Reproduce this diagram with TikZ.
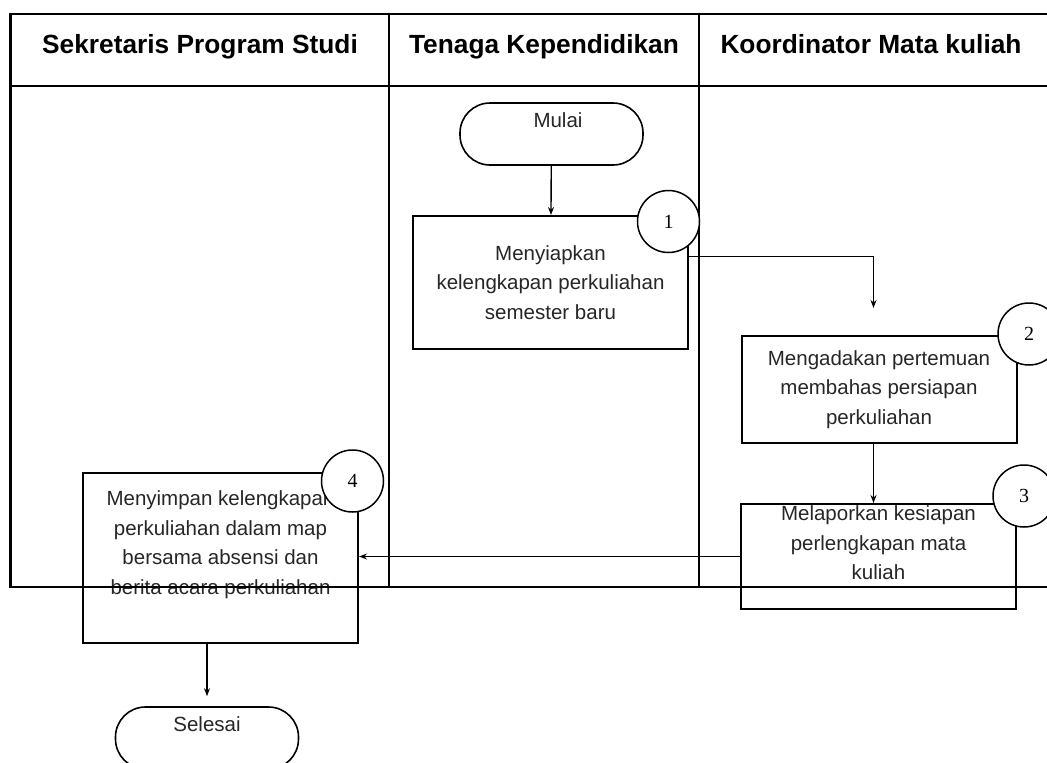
\documentclass[tikz,border=0pt]{standalone}
\usepackage{fontspec}
\setmainfont{Liberation Sans}
\newfontfamily\numfont{Liberation Serif}
\usetikzlibrary{arrows.meta}
\begin{document}
\begin{tikzpicture}[x=1pt,y=-1pt, >={Stealth[length=8pt,width=6pt]},
  every node/.style={font=\fontsize{20.5}{29.5}\selectfont,text=black!85},
  lane/.style={line width=2.6pt},
  link/.style={->,line width=1.4pt},
  box/.style={draw,line width=2pt,minimum width=275pt,inner sep=2pt,align=center},
  term/.style={draw,line width=1.6pt,rounded corners=30pt,minimum width=183pt,minimum height=62pt,text depth=27pt},
  num/.style={draw,circle,fill=white,line width=1.5pt,minimum size=62pt,inner sep=0pt,font=\numfont\fontsize{20}{20}\selectfont,text=black},
  head/.style={font=\fontsize{26.3}{30}\selectfont\bfseries,text=black,anchor=base}]
\useasboundingbox (0,0) rectangle (1047,763);
\node[term] (start) at (551.5,134) {\hspace*{13pt}Mulai};
\node[box,minimum height=133pt] (box1) at (550.5,282.5) {Menyiapkan\\kelengkapan perkuliahan\\semester baru};
\node[box,minimum height=107pt] (box2) at (879,389.5) {Mengadakan pertemuan\\membahas persiapan\\perkuliahan};
\node[box,minimum height=105pt,text depth=27pt] (box3) at (878.5,556.5) {Melaporkan kesiapan\\perlengkapan mata\\kuliah};
\node[box,minimum height=170pt,text depth=31pt] (box4) at (220.5,558) {Menyimpan kelengkapan\\perkuliahan dalam map\\bersama absensi dan\\berita acara perkuliahan};
\node[term] (stop) at (207,738) {Selesai};
\coordinate (in2) at (873.5,308);
\draw[link] (start) -- (box1);
\draw[link] ([yshift=26pt]box1.east) -| (in2);
\draw[link] (box2.south -| in2) -- (box3.north -| in2);
\draw[link] (box3.west) -- (box3.west -| box4.east);
\draw[link,shorten >=10pt] (box4.south -| stop.north) -- (stop.north);
% swimlanes
\draw[lane] (10.7,14) rectangle (1052,587);
\draw[lane] (10.7,86) -- (1052,86);
\draw[lane] (389,14) -- (389,587);
\draw[lane] (699,14) -- (699,587);
\node[head] (h1) at (200,53) {Sekretaris Program Studi};
\node[head] (h2) at (544,53) {Tenaga Kependidikan};
\node[head] (h3) at (871,53) {Koordinator Mata kuliah};
% step numbers
\node[num] (n1) at (668.5,221.5) {1};
\node[num] (n2) at (1029,334) {2};
\node[num] (n3) at (1024,496) {3};
\node[num] (n4) at (352.5,481) {4};
\end{tikzpicture}
\end{document}
